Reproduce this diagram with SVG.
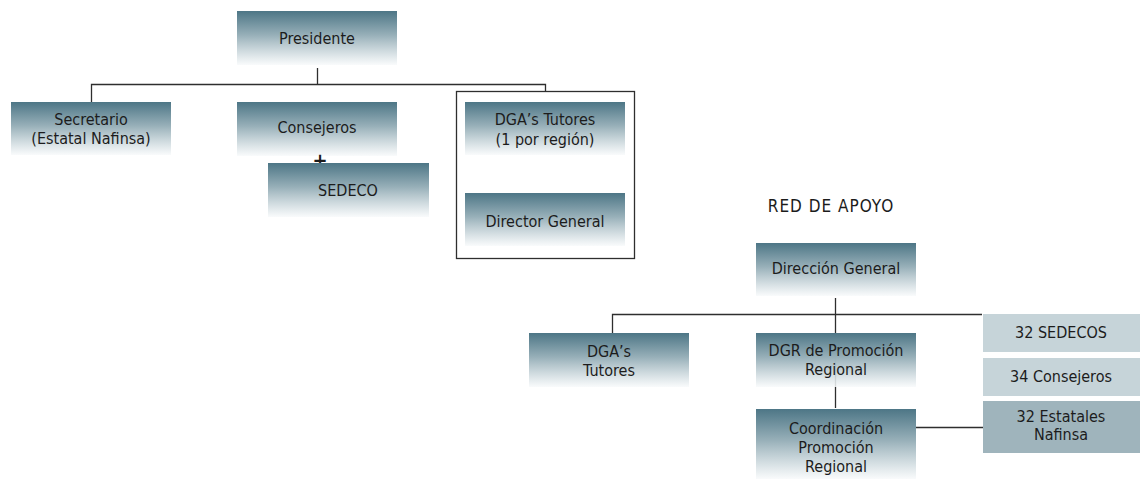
<svg xmlns="http://www.w3.org/2000/svg" width="1140" height="480" viewBox="0 0 1140 480">
  <defs>
    <linearGradient id="boxGrad" x1="0" y1="0" x2="0" y2="1">
      <stop offset="0" stop-color="#4d7686"/>
      <stop offset="0.45" stop-color="#98b0b9"/>
      <stop offset="1" stop-color="#f8fafb" stop-opacity="0.85"/>
    </linearGradient>
    <style>
      .box { fill: url(#boxGrad); }
      .flat { fill: #c6d4d9; }
      .flat-dark { fill: #9fb4bc; }
      .conn { fill: none; stroke: #2e2e2e; stroke-width: 1.3; }
      .frame { fill: none; stroke: #2e2e2e; stroke-width: 1.3; }
      text { font-family: "DejaVu Sans Condensed", "DejaVu Sans", sans-serif; font-stretch: condensed; font-size: 16px; fill: #1c1c1c; text-anchor: middle; }
      .title { font-size: 17px; letter-spacing: 1px; }
      .plus { font-size: 20px; font-weight: bold; }
    </style>
  </defs>
  <rect width="1140" height="480" fill="#ffffff"/>

  <!-- connectors -->
  <g id="connectors">
    <path class="conn" d="M317.5 68 V84.5 M91.5 102 V84.5 H545.5 V91"/>
    <path class="conn" d="M835.5 298 V408"/>
    <path class="conn" d="M612.5 333 V314.5 H982"/>
    <path class="conn" d="M916 427.5 H983"/>
  </g>

  <!-- upper chart -->
  <g id="presidente">
    <rect class="box" x="237" y="11" width="160" height="54"/>
    <text x="317" y="44">Presidente</text>
  </g>
  <g id="secretario">
    <rect class="box" x="11" y="102" width="160" height="53"/>
    <text x="91" y="125">Secretario</text>
    <text x="91" y="144">(Estatal Nafinsa)</text>
  </g>
  <g id="consejeros">
    <rect class="box" x="237" y="102" width="160" height="54"/>
    <text x="317" y="133">Consejeros</text>
  </g>
  <g id="plus">
    <text class="plus" x="320" y="167">+</text>
  </g>
  <g id="sedeco">
    <rect class="box" x="268" y="163" width="161" height="54"/>
    <text x="348" y="196">SEDECO</text>
  </g>
  <g id="grupo-dga">
    <rect class="frame" x="456.5" y="91.5" width="178" height="167"/>
  </g>
  <g id="dga-tutores-region">
    <rect class="box" x="465" y="102" width="160" height="53"/>
    <text x="545" y="125">DGA’s Tutores</text>
    <text x="545" y="145">(1 por región)</text>
  </g>
  <g id="director-general">
    <rect class="box" x="465" y="193" width="160" height="53"/>
    <text x="545" y="227">Director General</text>
  </g>

  <!-- lower chart -->
  <g id="red-de-apoyo">
    <text class="title" x="831" y="212">RED DE APOYO</text>
  </g>
  <g id="direccion-general">
    <rect class="box" x="756" y="243" width="160" height="53"/>
    <text x="836" y="274">Dirección General</text>
  </g>
  <g id="dga-tutores">
    <rect class="box" x="529" y="333" width="160" height="54"/>
    <text x="609" y="357">DGA’s</text>
    <text x="609" y="376">Tutores</text>
  </g>
  <g id="dgr-promocion">
    <rect class="box" x="756" y="333" width="160" height="54"/>
    <text x="836" y="356">DGR de Promoción</text>
    <text x="836" y="375">Regional</text>
  </g>
  <g id="coordinacion">
    <rect class="box" x="756" y="409" width="160" height="70"/>
    <text x="836" y="434">Coordinación</text>
    <text x="836" y="453">Promoción</text>
    <text x="836" y="472">Regional</text>
  </g>
  <g id="sedecos">
    <rect class="flat" x="983" y="314" width="157" height="38"/>
    <text x="1061" y="338">32 SEDECOS</text>
  </g>
  <g id="consejeros-34">
    <rect class="flat" x="983" y="358" width="157" height="38"/>
    <text x="1061" y="382">34 Consejeros</text>
  </g>
  <g id="estatales">
    <rect class="flat-dark" x="983" y="401" width="157" height="52"/>
    <text x="1061" y="422">32 Estatales</text>
    <text x="1061" y="440">Nafinsa</text>
  </g>
</svg>
